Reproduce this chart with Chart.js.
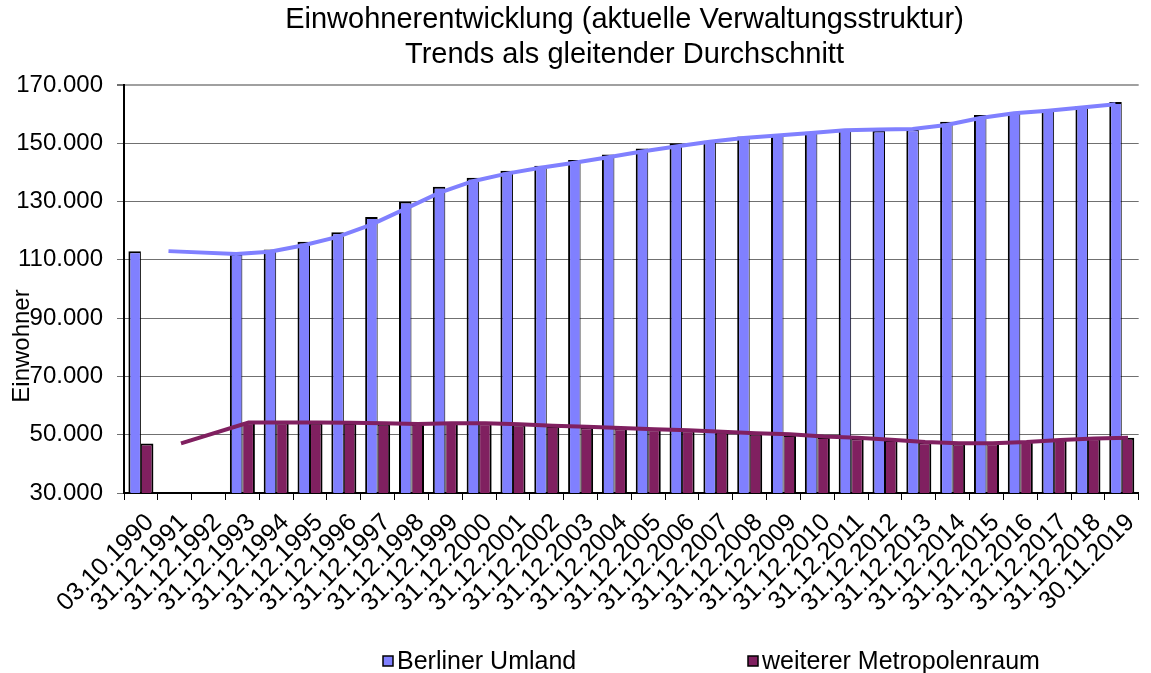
<!DOCTYPE html>
<html><head><meta charset="utf-8">
<script src="https://cdn.jsdelivr.net/npm/chart.js@4.4.1/dist/chart.umd.min.js"></script>
<style>html,body{margin:0;padding:0;background:#fff}</style>
</head><body>
<canvas id="c" width="1151" height="673"></canvas>
<script>
const categories = ["03.10.1990","31.12.1991","31.12.1992","31.12.1993","31.12.1994","31.12.1995","31.12.1996","31.12.1997","31.12.1998","31.12.1999","31.12.2000","31.12.2001","31.12.2002","31.12.2003","31.12.2004","31.12.2005","31.12.2006","31.12.2007","31.12.2008","31.12.2009","31.12.2010","31.12.2011","31.12.2012","31.12.2013","31.12.2014","31.12.2015","31.12.2016","31.12.2017","31.12.2018","30.11.2019"];
const berlinerUmland = [113000,null,null,112000,113600,116200,119500,124700,130000,135100,138200,140600,142300,144300,146200,148200,150000,150900,152300,153200,154000,154800,154400,154800,157400,159700,160500,161400,162800,164200];
const weitererMetropolenraum = [47000,null,null,54200,54200,54100,54000,53800,53700,54000,53900,53500,53000,52600,52200,51900,51500,51000,50300,49900,49200,48800,48200,47400,47000,47100,47800,48400,48800,49000];
const trendBerlinerUmland = [null,113000,null,112000,112800,115000,117900,122100,127500,133000,137000,139600,141600,143300,145200,147200,148900,150500,151800,152700,153500,154500,154700,154900,156300,158700,160300,161200,162300,163400];
const trendMetropolenraum = [null,47000,null,54200,54200,54200,54100,53900,53700,53900,53900,53600,53100,52700,52300,51900,51500,51000,50500,50200,49400,49000,48300,47500,47100,47100,47500,48200,48700,49000];
const seriesNames = ["Berliner Umland","weiterer Metropolenraum"];
const titleLines = ["Einwohnerentwicklung (aktuelle Verwaltungsstruktur)","Trends als gleitender Durchschnitt"];
const yAxisTitle = "Einwohner";
const yMin = 30000, yMax = 170000, yStep = 20000;

const FONT = '"Liberation Sans", Arial, sans-serif';
const BLUE = '#8080FF', MAROON = '#802060';
const CAT_PCT = 0.74;

function fmt(v){ return String(v).replace(/\B(?=(\d{3})+(?!\d))/g, '.'); }

// trend lines sit over the centre of their own bar: shift by a quarter of the bar group
const lineShiftPlugin = {
  id: 'lineShift',
  beforeDatasetDraw(chart, args){
    const ds = chart.data.datasets[args.index];
    if (ds.type !== 'line') return;
    const xs = chart.scales.x;
    const cat = (xs.right - xs.left) / categories.length;
    const shift = cat * CAT_PCT / 4 * (ds.barSide || 0);
    chart.ctx.save();
    chart.ctx.translate(shift, 0);
  },
  afterDatasetDraw(chart, args){
    const ds = chart.data.datasets[args.index];
    if (ds.type !== 'line') return;
    chart.ctx.restore();
  }
};

const titleShiftPlugin = {
  id: 'titleShift',
  afterLayout(chart){
    const t = chart.titleBlock;
    if (t) { t.left = 98; t.right = 1151; }
  }
};

const yTitlePlugin = {
  id: 'yTitle',
  afterDraw(chart){
    const ctx = chart.ctx;
    ctx.save();
    ctx.font = '24px ' + FONT;
    ctx.fillStyle = '#000';
    ctx.textAlign = 'center';
    ctx.textBaseline = 'alphabetic';
    ctx.translate(29, 346);
    ctx.rotate(-Math.PI/2);
    ctx.fillText(yAxisTitle, 0, 0);
    ctx.restore();
  }
};

const legendPlugin = {
  id: 'customLegend',
  afterDraw(chart){
    const ctx = chart.ctx;
    const xs = [383, 748];
    const y = 661;
    const bars = chart.data.datasets.filter(d => d.type !== 'line');
    ctx.save();
    ctx.font = '25px ' + FONT;
    ctx.textBaseline = 'middle';
    ctx.textAlign = 'left';
    bars.forEach((d, i) => {
      const x = xs[i];
      ctx.fillStyle = d.backgroundColor;
      ctx.fillRect(x, y - 5, 10, 10);
      ctx.lineWidth = 1.5;
      ctx.strokeStyle = '#000';
      ctx.strokeRect(x, y - 5, 10, 10);
      ctx.fillStyle = '#000';
      ctx.fillText(d.label, x + 14, y + 1);
    });
    ctx.restore();
  }
};

new Chart(document.getElementById('c'), {
  type: 'bar',
  data: {
    labels: categories,
    datasets: [
      {type:'bar', label: seriesNames[0], data: berlinerUmland, backgroundColor: BLUE, borderColor:'#000',
       borderWidth:{left:2,top:2,right:1,bottom:0}, borderSkipped:false, categoryPercentage: CAT_PCT, barPercentage: 1, order: 2},
      {type:'bar', label: seriesNames[1], data: weitererMetropolenraum, backgroundColor: MAROON, borderColor:'#000',
       borderWidth:{left:1,top:2,right:2,bottom:0}, borderSkipped:false, categoryPercentage: CAT_PCT, barPercentage: 1, order: 2},
      {type:'line', label: 'Trend ' + seriesNames[0], data: trendBerlinerUmland, barSide: -1, spanGaps: true,
       borderColor: BLUE, borderWidth: 4, pointRadius: 0, tension: 0, fill: false, order: 1},
      {type:'line', label: 'Trend ' + seriesNames[1], data: trendMetropolenraum, barSide: 1, spanGaps: true,
       borderColor: MAROON, borderWidth: 4, pointRadius: 0, tension: 0, fill: false, order: 1}
    ]
  },
  options: {
    responsive: false,
    animation: false,
    devicePixelRatio: 1,
    layout: {padding: {left: 0, right: 1, top: 0, bottom: 40}},
    plugins: {
      legend: {display: false},
      tooltip: {enabled: false},
      title: {display: true, text: titleLines, color: '#000',
        font: {family: FONT, size: 29, weight: 'normal', lineHeight: 1.19},
        padding: {top: 3, bottom: 13}}
    },
    scales: {
      x: {type: 'category', offset: true,
        grid: {offset: true, drawOnChartArea: false, drawTicks: true, tickLength: 7, tickColor: '#000', tickWidth: 1},
        border: {color: '#000', width: 2},
        ticks: {autoSkip: false, maxRotation: 45, minRotation: 45, color: '#000', padding: 8, labelOffset: 9,
          font: {family: FONT, size: 25}},
        afterFit: s => { s.height = 140; }
      },
      y: {min: yMin, max: yMax,
        ticks: {stepSize: yStep, callback: v => fmt(v), color: '#000', padding: 14,
          font: {family: FONT, size: 24}},
        grid: {color: c => c.tick && c.tick.value === yMax ? '#a0a0a0' : '#707070',
               lineWidth: c => c.tick && c.tick.value === yMax ? 2 : 1,
               tickLength: 7, tickColor: '#707070'},
        border: {color: '#000', width: 2},
        afterFit: s => { s.width = 124; }
      }
    }
  },
  plugins: [lineShiftPlugin, titleShiftPlugin, yTitlePlugin, legendPlugin]
});
</script>
</body></html>
